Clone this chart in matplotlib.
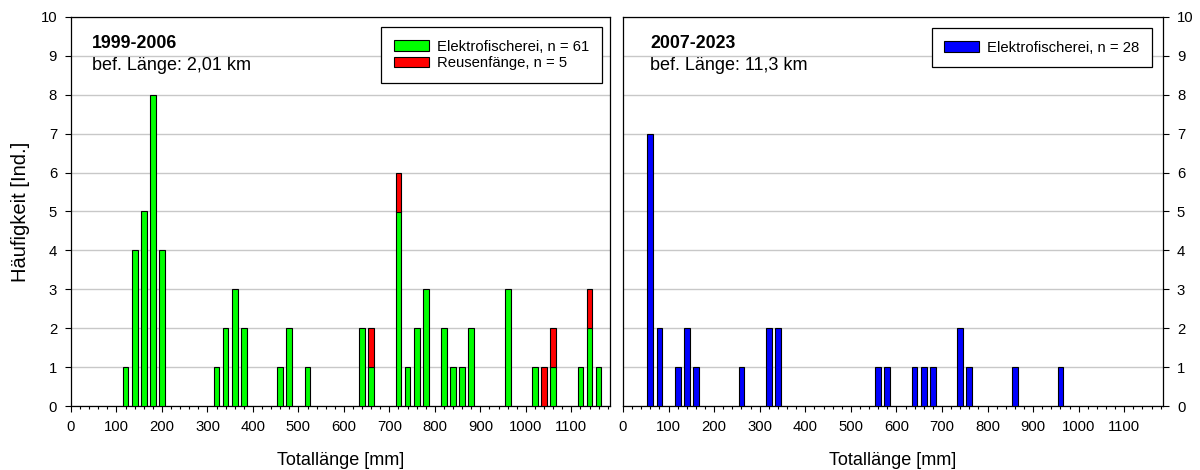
import matplotlib
matplotlib.use("Agg")
import matplotlib.pyplot as plt
import numpy as np
from matplotlib.patches import Patch
from matplotlib.ticker import MultipleLocator

plt.rcParams['font.family'] = ['Liberation Sans', 'DejaVu Sans']

# ---- data ----
L_len = [120, 140, 160, 180, 200, 320, 340, 360, 380, 460, 480, 520, 640, 660, 720,
         740, 760, 780, 820, 840, 860, 880, 960, 1020, 1040, 1060, 1120, 1140, 1160]
L_elektro = [1, 4, 5, 8, 4, 1, 2, 3, 2, 1, 2, 1, 2, 1, 5,
             1, 2, 3, 2, 1, 1, 2, 3, 1, 0, 1, 1, 2, 1]
L_reusen = [0, 0, 0, 0, 0, 0, 0, 0, 0, 0, 0, 0, 0, 1, 1,
            0, 0, 0, 0, 0, 0, 0, 0, 0, 1, 1, 0, 1, 0]

R_len = [60, 80, 120, 140, 160, 260, 320, 340, 560, 580, 640, 660, 680, 740, 760, 860, 960]
R_elektro = [7, 2, 1, 2, 1, 1, 2, 2, 1, 1, 1, 1, 1, 2, 1, 1, 1]

x_ticks = list(range(0, 1200, 100))
y_ticks = list(range(0, 11))

GREEN = '#00FF00'
RED = '#FF0000'
BLUE = '#0000FF'
BAR_W = 12.5
TICK_FS = 10.7

fig = plt.figure(figsize=(12, 4.7), dpi=100)
W, H = 1200, 470
axL = fig.add_axes([71 / W, (H - 406) / H, (610 - 71) / W, (406 - 17) / H])
axR = fig.add_axes([623 / W, (H - 406) / H, (1163 - 623) / W, (406 - 17) / H])


def style(ax, right=False):
    ax.set_xlim(0, 1185)
    ax.set_ylim(0, 10)
    ax.set_xticks(x_ticks)
    ax.set_xticklabels([str(t) for t in x_ticks], fontsize=TICK_FS)
    ax.xaxis.set_minor_locator(MultipleLocator(20))
    ax.set_yticks(y_ticks)
    ax.set_yticklabels([str(t) for t in y_ticks], fontsize=TICK_FS)
    ax.tick_params(axis='both', which='major', direction='out', length=4, width=0.8, pad=6, colors='black')
    ax.tick_params(axis='x', which='minor', direction='out', length=2.4, width=0.8)
    ax.yaxis.grid(True, color='#c8c8c8', linewidth=1.0)
    ax.set_axisbelow(True)
    for s in ax.spines.values():
        s.set_linewidth(0.9)
        s.set_color('black')
    if right:
        ax.yaxis.tick_right()
        ax.yaxis.set_label_position('right')
    ax.set_xlabel('Totallänge [mm]', fontsize=13)
    ax.xaxis.set_label_coords(0.5, -0.117)


style(axL)
style(axR, right=True)

# left panel
Lx = np.array(L_len)
Le = np.array(L_elektro)
Lr = np.array(L_reusen)
m = Le > 0
axL.bar(Lx[m], Le[m], width=BAR_W, color=GREEN, edgecolor='black', linewidth=0.8, zorder=3)
m2 = Lr > 0
axL.bar(Lx[m2], Lr[m2], bottom=Le[m2], width=BAR_W, color=RED, edgecolor='black', linewidth=0.8, zorder=3)
axL.set_ylabel('Häufigkeit [Ind.]', fontsize=14.5)
axL.yaxis.set_label_coords(-0.076, 0.5)

axL.text(0.039, 0.9195, '1999-2006', transform=axL.transAxes, fontsize=12.8, fontweight='bold', va='baseline')
axL.text(0.039, 0.864, 'bef. Länge: 2,01 km', transform=axL.transAxes, fontsize=13, va='baseline')

leg_kw = dict(fontsize=TICK_FS, frameon=True, fancybox=False, handlelength=2.35, handleheight=0.7,
              labelspacing=0.15, borderpad=0.85, handletextpad=0.55, borderaxespad=0)

legL = axL.legend(handles=[Patch(facecolor=GREEN, edgecolor='black', linewidth=0.8, label='Elektrofischerei, n = 61'),
                           Patch(facecolor=RED, edgecolor='black', linewidth=0.8, label='Reusenfänge, n = 5')],
                  loc='upper right', bbox_to_anchor=(0.985, 0.974), **leg_kw)
legL.get_frame().set_edgecolor('black')
legL.get_frame().set_linewidth(0.9)
legL.get_frame().set_alpha(1)

# right panel
axR.bar(R_len, R_elektro, width=BAR_W, color=BLUE, edgecolor='black', linewidth=0.8, zorder=3)
axR.text(0.05, 0.9195, '2007-2023', transform=axR.transAxes, fontsize=12.8, fontweight='bold', va='baseline')
axR.text(0.05, 0.864, 'bef. Länge: 11,3 km', transform=axR.transAxes, fontsize=13, va='baseline')

legR = axR.legend(handles=[Patch(facecolor=BLUE, edgecolor='black', linewidth=0.8, label='Elektrofischerei, n = 28')],
                  loc='upper right', bbox_to_anchor=(0.98, 0.972), **leg_kw)
legR.get_frame().set_edgecolor('black')
legR.get_frame().set_linewidth(0.9)
legR.get_frame().set_alpha(1)

fig.savefig('out.png', dpi=100, facecolor='white')
